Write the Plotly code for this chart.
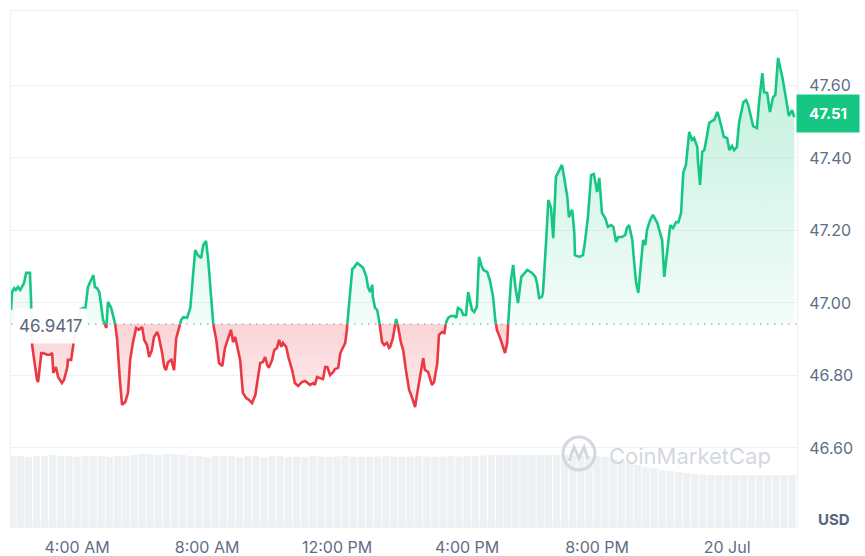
import plotly.graph_objects as go
import pandas as pd

BASE = 46.9417
DAY0 = "2024-07-19"

time_labels = [
    "01:58", "02:00", "02:04", "02:07", "02:11", "02:15", "02:18", "02:22", "02:26", "02:33",
    "02:35", "02:37", "02:46", "02:48", "02:54", "02:57", "03:05", "03:10", "03:14", "03:16",
    "03:21", "03:25", "03:32", "03:36", "03:42", "03:43", "03:49", "03:53", "03:58", "04:06",
    "04:11", "04:15", "04:20", "04:30", "04:33", "04:37", "04:41", "04:48", "04:54", "04:57",
    "05:03", "05:06", "05:10", "05:14", "05:19", "05:23", "05:29", "05:34", "05:38", "05:43",
    "05:49", "05:54", "06:00", "06:04", "06:09", "06:13", "06:18", "06:22", "06:28", "06:31",
    "06:37", "06:41", "06:44", "06:48", "06:54", "06:57", "06:59", "07:03", "07:06", "07:12",
    "07:16", "07:19", "07:23", "07:29", "07:34", "07:38", "07:43", "07:49", "07:53", "07:58",
    "08:02", "08:07", "08:11", "08:17", "08:22", "08:28", "08:33", "08:39", "08:44", "08:48",
    "08:52", "08:55", "09:01", "09:06", "09:12", "09:18", "09:23", "09:29", "09:32", "09:38",
    "09:43", "09:47", "09:51", "09:54", "10:00", "10:04", "10:09", "10:13", "10:17", "10:20",
    "10:26", "10:30", "10:37", "10:42", "10:48", "10:55", "11:01", "11:05", "11:10", "11:16",
    "11:19", "11:23", "11:29", "11:34", "11:38", "11:42", "11:47", "11:53", "11:56", "12:02",
    "12:06", "12:11", "12:15", "12:18", "12:22", "12:28", "12:31", "12:37", "12:42", "12:48",
    "12:54", "12:57", "13:01", "13:05", "13:06", "13:10", "13:14", "13:18", "13:23", "13:27",
    "13:32", "13:36", "13:38", "13:43", "13:49", "13:53", "13:58", "14:02", "14:07", "14:13",
    "14:18", "14:24", "14:28", "14:33", "14:39", "14:42", "14:48", "14:55", "14:59", "15:05",
    "15:08", "15:14", "15:18", "15:21", "15:25", "15:30", "15:36", "15:40", "15:43", "15:49",
    "15:53", "15:58", "16:02", "16:06", "16:09", "16:13", "16:18", "16:22", "16:26", "16:30",
    "16:37", "16:42", "16:48", "16:52", "16:55", "17:01", "17:06", "17:10", "17:14", "17:18",
    "17:21", "17:25", "17:29", "17:34", "17:40", "17:43", "17:51", "18:00", "18:06", "18:09",
    "18:13", "18:18", "18:20", "18:26", "18:30", "18:35", "18:39", "18:44", "18:50", "18:55",
    "18:59", "19:05", "19:08", "19:14", "19:18", "19:19", "19:27", "19:34", "19:38", "19:43",
    "19:49", "19:54", "20:00", "20:04", "20:09", "20:15", "20:20", "20:26", "20:30", "20:35",
    "20:39", "20:46", "20:52", "20:55", "20:59", "21:05", "21:08", "21:12", "21:16", "21:19",
    "21:25", "21:29", "21:32", "21:38", "21:43", "21:51", "21:56", "22:00", "22:04", "22:09",
    "22:15", "22:20", "22:26", "22:30", "22:35", "22:39", "22:44", "22:50", "22:55", "22:59",
    "23:05", "23:06", "23:10", "23:14", "23:18", "23:23", "23:27", "23:32", "23:36", "23:42",
    "23:45", "23:51", "23:54", "00:00", "00:04", "00:09", "00:13", "00:18", "00:22", "00:30",
    "00:35", "00:39", "00:44", "00:48", "00:55", "00:59", "01:05", "01:08", "01:14", "01:19",
    "01:25", "01:29", "01:34", "01:42", "01:47", "01:51", "01:54", "02:00", "02:04",
]

prices = [
    46.981, 47.030, 47.041, 47.036, 47.044, 47.036, 47.044, 47.055, 47.083, 47.083,
    47.008, 46.884, 46.788, 46.782, 46.862, 46.862, 46.857, 46.857, 46.862, 46.807,
    46.823, 46.796, 46.779, 46.788, 46.823, 46.843, 46.843, 46.884, 46.939, 46.983,
    46.986, 46.981, 47.044, 47.077, 47.044, 47.041, 47.030, 46.953, 46.931, 47.003,
    46.986, 46.967, 46.945, 46.898, 46.788, 46.719, 46.727, 46.752, 46.843, 46.890,
    46.931, 46.926, 46.934, 46.898, 46.884, 46.851, 46.870, 46.906, 46.920, 46.906,
    46.862, 46.823, 46.815, 46.837, 46.843, 46.823, 46.815, 46.903, 46.917, 46.953,
    46.961, 46.961, 46.959, 46.986, 47.069, 47.146, 47.132, 47.124, 47.160, 47.171,
    47.119, 47.028, 46.945, 46.898, 46.834, 46.826, 46.876, 46.906, 46.926, 46.892,
    46.906, 46.884, 46.843, 46.752, 46.738, 46.732, 46.724, 46.746, 46.779, 46.834,
    46.837, 46.851, 46.829, 46.821, 46.843, 46.870, 46.876, 46.898, 46.879, 46.890,
    46.879, 46.851, 46.815, 46.779, 46.771, 46.782, 46.785, 46.779, 46.774, 46.779,
    46.774, 46.796, 46.793, 46.790, 46.823, 46.823, 46.801, 46.810, 46.818, 46.821,
    46.862, 46.876, 46.890, 46.926, 47.000, 47.094, 47.097, 47.110, 47.105, 47.097,
    47.072, 47.044, 47.030, 47.050, 47.017, 46.986, 46.981, 46.948, 46.892, 46.884,
    46.890, 46.876, 46.879, 46.903, 46.956, 46.931, 46.890, 46.870, 46.815, 46.760,
    46.741, 46.713, 46.752, 46.796, 46.848, 46.815, 46.810, 46.774, 46.782, 46.834,
    46.912, 46.920, 46.917, 46.945, 46.959, 46.964, 46.964, 46.959, 46.986, 46.981,
    46.967, 46.967, 47.030, 47.000, 46.981, 46.975, 46.989, 47.127, 47.105, 47.091,
    47.086, 47.063, 47.017, 46.953, 46.926, 46.903, 46.879, 46.862, 46.890, 47.008,
    47.063, 47.105, 47.044, 47.000, 47.072, 47.077, 47.091, 47.083, 47.072, 47.055,
    47.014, 47.017, 47.028, 47.174, 47.284, 47.262, 47.179, 47.348, 47.367, 47.381,
    47.348, 47.292, 47.237, 47.257, 47.193, 47.132, 47.127, 47.132, 47.174, 47.237,
    47.353, 47.356, 47.306, 47.345, 47.248, 47.234, 47.210, 47.215, 47.210, 47.168,
    47.182, 47.182, 47.188, 47.207, 47.215, 47.174, 47.119, 47.055, 47.028, 47.083,
    47.174, 47.160, 47.201, 47.229, 47.243, 47.221, 47.196, 47.174, 47.072, 47.146,
    47.215, 47.207, 47.223, 47.223, 47.248, 47.359, 47.381, 47.472, 47.450, 47.455,
    47.430, 47.394, 47.326, 47.417, 47.422, 47.463, 47.497, 47.502, 47.505, 47.527,
    47.513, 47.477, 47.458, 47.455, 47.422, 47.433, 47.422, 47.430, 47.497, 47.554,
    47.560, 47.546, 47.513, 47.488, 47.483, 47.554, 47.634, 47.582, 47.579, 47.527,
    47.568, 47.574, 47.676, 47.623, 47.579, 47.546, 47.516, 47.532, 47.513,
]

# 15-minute volume bars (millions USD), starting 02:00
volume = [
    7.1, 7.1, 7.0, 7.1, 7.1, 7.2, 7.1, 7.1, 7.0, 7.1, 7.1, 7.1, 7.0, 7.1, 7.1, 7.2,
    7.3, 7.3, 7.2, 7.3, 7.3, 7.2,
    7.1, 7.1, 7.0, 7.1, 7.1, 7.1, 7.0, 7.1, 7.1, 7.0, 7.1, 7.1, 7.0,
    7.05, 7.0, 7.1, 7.05, 7.0, 7.05, 7.1, 7.0, 7.05, 7.0, 7.05, 7.1, 7.05, 7.0, 7.05,
    7.1, 7.05, 7.0, 7.05, 7.1, 7.05, 7.1, 7.1, 7.15,
    7.2, 7.2, 7.2, 7.2, 7.2, 7.2, 7.2, 7.2, 7.2, 7.2, 7.15, 7.15, 7.1, 7.1,
    7.0, 6.8, 6.6, 6.4, 6.2, 6.0, 5.9, 5.7, 5.6, 5.5, 5.4, 5.3, 5.25,
    5.2, 5.2, 5.2, 5.2, 5.2, 5.2, 5.2, 5.2, 5.2, 5.2, 5.2,
]

y_ticks = [46.60, 46.80, 47.00, 47.20, 47.40, 47.60]
x_tick_vals = ["2024-07-19 04:00", "2024-07-19 08:00", "2024-07-19 12:00",
               "2024-07-19 16:00", "2024-07-19 20:00", "2024-07-20 00:00"]
x_tick_text = ["4:00 AM", "8:00 AM", "12:00 PM", "4:00 PM", "8:00 PM", "20 Jul"]

GREEN = "#16c784"
RED = "#ea3943"
GRAY_TXT = "#616e85"

# ---- build timestamps ----
day0 = pd.Timestamp(DAY0)
ts = []
day = 0
prev = -1
for s in time_labels:
    h, m = map(int, s.split(":"))
    mins = h * 60 + m
    if mins < prev:
        day += 1
    prev = mins
    ts.append(day0 + pd.Timedelta(days=day, minutes=mins))

# insert baseline crossing points
xs, ys = [], []
for i in range(len(ts)):
    if i > 0:
        a, b = prices[i - 1], prices[i]
        if (a - BASE) * (b - BASE) < 0:
            f = (BASE - a) / (b - a)
            xs.append(ts[i - 1] + (ts[i] - ts[i - 1]) * f)
            ys.append(BASE)
    xs.append(ts[i])
    ys.append(prices[i])

up_fill = [max(v, BASE) for v in ys]
dn_fill = [min(v, BASE) for v in ys]
g_line = [v if v >= BASE else None for v in ys]
r_line = [v if v <= BASE else None for v in ys]
base_line = [BASE] * len(xs)

vol_times = pd.date_range(DAY0 + " 02:00", periods=len(volume), freq="15min")

fig = go.Figure()
fig.add_trace(go.Bar(x=vol_times, y=volume, yaxis="y2",
                     marker=dict(color="#eef1f4", line=dict(width=0))))

fig.add_trace(go.Scatter(x=xs, y=base_line, mode="lines", line=dict(width=0)))
fig.add_trace(go.Scatter(x=xs, y=up_fill, mode="lines", line=dict(width=0), fill="tonexty",
                         fillgradient=dict(type="vertical", start=BASE, stop=47.68,
                                           colorscale=[[0, "rgba(22,199,132,0.05)"],
                                                       [1, "rgba(22,199,132,0.27)"]])))
fig.add_trace(go.Scatter(x=xs, y=base_line, mode="lines", line=dict(width=0)))
fig.add_trace(go.Scatter(x=xs, y=dn_fill, mode="lines", line=dict(width=0), fill="tonexty",
                         fillgradient=dict(type="vertical", start=46.71, stop=BASE,
                                           colorscale=[[0, "rgba(234,57,67,0.08)"],
                                                       [1, "rgba(234,57,67,0.22)"]])))
fig.add_trace(go.Scatter(x=xs, y=g_line, mode="lines", connectgaps=False,
                         line=dict(color=GREEN, width=2.6)))
fig.add_trace(go.Scatter(x=xs, y=r_line, mode="lines", connectgaps=False,
                         line=dict(color=RED, width=2.6)))

# baseline dotted line
fig.add_shape(type="line", xref="paper", x0=0, x1=1, yref="y", y0=BASE, y1=BASE,
              line=dict(color="#9aa3b5", width=1.3, dash="1.5px,5.5px"))

# watermark logo
WM = "#d3d8e0"
fig.add_shape(type="circle", xref="paper", yref="paper",
              x0=0.7023, x1=0.7430, y0=0.1105, y1=0.1744,
              line=dict(color=WM, width=3))
fig.add_shape(type="path", xref="paper", yref="paper",
              path="M 0.7099 0.1279 L 0.7163 0.1550 L 0.7226 0.1337 L 0.7290 0.1550 L 0.7341 0.1318",
              line=dict(color=WM, width=3))

last = prices[-1]
fig.add_annotation(xref="paper", x=1, xanchor="left", xshift=-1, yref="y", y=last, yshift=4,
                   text=f"<b>{last:.2f}</b>", showarrow=False, bgcolor=GREEN,
                   font=dict(color="white", size=15), width=54, height=29, borderpad=4)
fig.add_annotation(xref="paper", x=0, xanchor="left", xshift=3, yref="y", y=BASE, yshift=-2,
                   text=f"{BASE}", showarrow=False, bgcolor="rgba(255,255,255,0.95)",
                   font=dict(color="#58667e", size=17), borderpad=4, height=26)
fig.add_annotation(xref="paper", x=1.047, xanchor="center", yref="paper", y=0.0136,
                   yanchor="middle", text="<b>USD</b>", showarrow=False,
                   font=dict(color="#58667e", size=15))
fig.add_annotation(xref="paper", x=0.8639, xanchor="center", yref="paper", y=0.1376,
                   yanchor="middle", text="CoinMarketCap", showarrow=False,
                   font=dict(color=WM, size=22))

fig.update_layout(
    width=865, height=556,
    margin=dict(l=11, r=68, t=11, b=29, autoexpand=False),
    paper_bgcolor="white", plot_bgcolor="white",
    showlegend=False, hovermode=False, bargap=0.1,
    font=dict(family="Inter, sans-serif", color=GRAY_TXT),
    xaxis=dict(type="date", range=["2024-07-19 01:58", "2024-07-20 02:09"],
               tickvals=x_tick_vals, ticktext=x_tick_text, showgrid=False,
               showline=True, linecolor="#eceff3", mirror=True, zeroline=False,
               ticks="", tickfont=dict(size=16, color=GRAY_TXT), ticklabelstandoff=6),
    yaxis=dict(side="right", range=[46.382, 47.8055], tickvals=y_ticks,
               ticktext=[f"{v:.2f}" for v in y_ticks], showgrid=True, gridcolor="#eff1f4",
               showline=True, linecolor="#eceff3", mirror=True, zeroline=False,
               ticks="", tickfont=dict(size=16, color=GRAY_TXT), ticklabelstandoff=8),
    yaxis2=dict(overlaying="y", range=[0, 51.6], visible=False),
)

fig.write_html("out.html")
